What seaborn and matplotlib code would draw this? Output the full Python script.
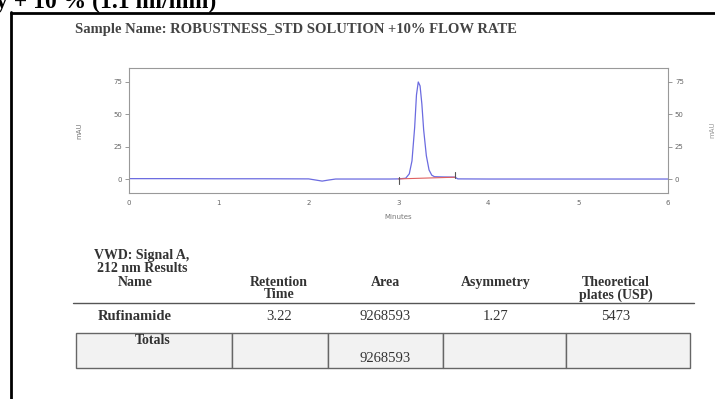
import matplotlib
matplotlib.use("Agg")
import matplotlib.pyplot as plt
from matplotlib.lines import Line2D
from matplotlib.patches import Rectangle
import seaborn as sns
import pandas as pd

# Chromatogram trace (minutes, mAU)
time_min = [0.0, 0.5, 1.0, 1.5, 2.0, 2.08, 2.15, 2.22, 2.3, 2.6, 2.9, 3.0, 3.08, 3.12,
            3.15, 3.18, 3.2, 3.22, 3.24, 3.26, 3.28, 3.31, 3.34, 3.37, 3.4, 3.5, 3.6,
            3.63, 3.66, 4.0, 5.0, 6.0]
signal_mau = [0.3, 0.3, 0.2, 0.2, 0.1, -0.8, -1.6, -0.8, 0.0, 0.0, 0.0, 0.1, 0.6, 4.0,
              14.0, 40.0, 65.0, 75.0, 72.0, 58.0, 38.0, 18.0, 7.0, 3.0, 1.8, 1.6, 1.5,
              1.4, 0.1, 0.0, 0.0, 0.0]

# Integration baseline and peak start/end marks
baseline_t = [3.0, 3.63]
baseline_y = [0.1, 1.4]

# Results table
table_cols = ["Name", "Retention\nTime", "Area", "Asymmetry", "Theoretical\nplates (USP)"]
row_values = ["Rufinamide", "3.22", "9268593", "1.27", "5473"]
total_area = "9268593"

W, H = 715, 399
fig = plt.figure(figsize=(W / 100, H / 100), dpi=100)
sns.set_style("white")
plt.rcParams["font.family"] = ["DejaVu Sans"]

def fx(px):
    return px / W

def fy(py):
    return 1 - py / H

serif = "Liberation Serif"
ink = "#333333"

# Page header and frame
fig.text(fx(-4), fy(8), "y + 10 % (1.1 ml/min)", family=serif, weight="bold",
         fontsize=17, color="black", va="baseline", ha="left")
fig.add_artist(Line2D([fx(11), fx(716)], [fy(12.5), fy(12.5)], color="black", lw=2))
fig.add_artist(Line2D([fx(11), fx(11)], [fy(12), fy(400)], color="black", lw=2))

fig.text(fx(75), fy(30), "Sample Name: ROBUSTNESS_STD SOLUTION +10% FLOW RATE",
         family=serif, weight="bold", fontsize=10.5, color="#444444", va="center",
         ha="left")

# Chromatogram axes
ax = fig.add_axes([fx(129), fy(193), (668 - 129) / W, (193 - 68) / H])
df = pd.DataFrame({"Minutes": time_min, "mAU": signal_mau})
sns.lineplot(data=df, x="Minutes", y="mAU", ax=ax, color="#6b6be0", lw=0.9)
ax.plot(baseline_t, baseline_y, color="#e06060", lw=0.8)
ax.plot([baseline_t[0], baseline_t[0]], [-3.5, 1.5], color="#555555", lw=0.8)
ax.plot([baseline_t[1], baseline_t[1]], [0.5, 5.5], color="#555555", lw=0.8)

ax.set_xlim(0, 6)
ax.set_ylim(-10.8, 85.8)
ax.set_xticks(range(0, 7))
ax.set_xticks([i * 0.25 for i in range(25)], minor=True)
ax.set_yticks([0, 25, 50, 75])
ax.tick_params(axis="both", which="major", labelsize=5, colors="#888888",
               labelcolor="#666666", length=3, width=0.6, pad=2)
ax.tick_params(axis="x", which="minor", length=1.5, width=0.5, colors="#999999")
ax.tick_params(axis="y", which="both", direction="out")
for s in ax.spines.values():
    s.set_color("#999999")
    s.set_linewidth(0.8)
ax.set_xlabel("Minutes", fontsize=5, color="#777777", labelpad=6)
ax.set_ylabel("mAU", fontsize=5, color="#777777", labelpad=22)

ax2 = ax.twinx()
ax2.set_ylim(ax.get_ylim())
ax2.set_yticks([0, 25, 50, 75])
ax2.tick_params(axis="y", labelsize=5, colors="#888888", labelcolor="#666666",
                length=3, width=0.6, pad=2)
for s in ax2.spines.values():
    s.set_visible(False)
fig.text(fx(712), fy(130), "mAU", rotation=90, fontsize=5, color="#999999",
         va="center", ha="center")

# Results table
fs = 10
fig.text(fx(142), fy(255), "VWD: Signal A,", family=serif, weight="bold", fontsize=fs,
         color=ink, ha="center", va="center")
fig.text(fx(142), fy(268), "212 nm Results", family=serif, weight="bold", fontsize=fs,
         color=ink, ha="center", va="center")

col_x = [135, 279, 385, 496, 616]
for x, lab in zip(col_x, table_cols):
    fig.text(fx(x), fy(276), lab, family=serif, weight="bold", fontsize=fs, color=ink,
             ha="center", va="top", linespacing=0.95)
fig.add_artist(Line2D([fx(73), fx(694)], [fy(303), fy(303)], color="#555555", lw=1))

for i, (x, val) in enumerate(zip(col_x, row_values)):
    fig.text(fx(x), fy(317), val, family=serif, weight="bold" if i == 0 else "normal",
             fontsize=fs + 0.5, color=ink, ha="center", va="center")

edges = [76, 232, 328, 443, 566, 690]
for a, b in zip(edges[:-1], edges[1:]):
    fig.add_artist(Rectangle((fx(a), fy(368)), fx(b - a), (368 - 333) / H,
                             facecolor="#f2f2f2", edgecolor="#666666", lw=1))
fig.text(fx(153), fy(341), "Totals", family=serif, weight="bold", fontsize=fs,
         color=ink, ha="center", va="center")
fig.text(fx(385), fy(358), total_area, family=serif, fontsize=fs + 0.5, color=ink,
         ha="center", va="center")

fig.savefig("out.png", dpi=100, facecolor="white")
